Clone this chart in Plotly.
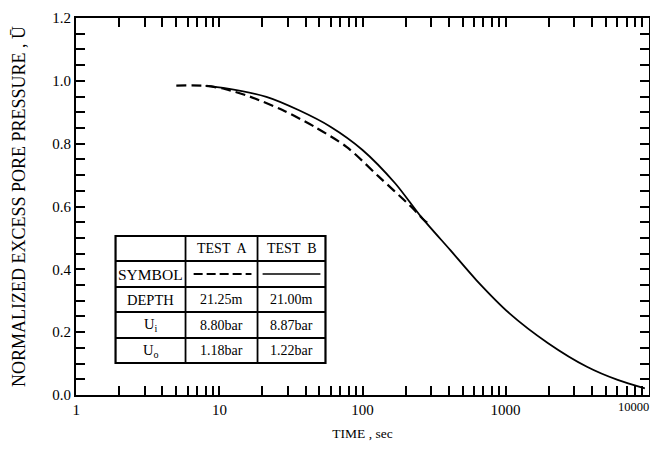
import plotly.graph_objects as go

# ---- data ----
test_a_time = [5, 8, 10.9, 16.5, 27.6, 46.1, 77.3, 130, 219, 269, 300]
test_a_u = [0.985, 0.984, 0.974, 0.949, 0.907, 0.854, 0.790, 0.695, 0.599, 0.557, 0.54]

test_b_time = [8, 10.9, 21.3, 35.7, 59.7, 100, 169, 257, 411, 624, 1064, 1982, 3700, 6070, 9400]
test_b_u = [0.984, 0.977, 0.949, 0.907, 0.854, 0.780, 0.674, 0.567, 0.461, 0.366, 0.260, 0.165, 0.090, 0.048, 0.021]

x_major = [1, 10, 100, 1000, 10000]
x_major_labels = ["1", "10", "100", "1000", "10000"]
y_major = [0.0, 0.2, 0.4, 0.6, 0.8, 1.0, 1.2]
y_major_labels = ["0.0", "0.2", "0.4", "0.6", "0.8", "1.0", "1.2"]

table_header = ["", "TEST  A", "TEST  B"]
table_rows = ["SYMBOL", "DEPTH", "U<sub>i</sub>", "U<sub>o</sub>"]
depth_vals = ["21.25m", "21.00m"]
ui_vals = ["8.80bar", "8.87bar"]
uo_vals = ["1.18bar", "1.22bar"]

x_title = "TIME , sec"
y_title = "NORMALIZED EXCESS PORE PRESSURE , Ū"

# ---- figure ----
# page body has an 8px margin; figure sized to fit inside the window
OFF = 8
W, H = 650, 433
EFF_W = W - 8  # width actually rendered in the window
# target plot-area pixels in the window
L, R, T, B = 76, 641, 18, 395
FONT = "Liberation Serif, Times New Roman, serif"

fig = go.Figure()
fig.add_trace(go.Scatter(x=test_a_time, y=test_a_u, mode="lines",
                         line=dict(color="black", width=2.2, dash="10px,5px", shape="spline", smoothing=0.8),
                         name="TEST A", showlegend=False))
fig.add_trace(go.Scatter(x=test_b_time, y=test_b_u, mode="lines",
                         line=dict(color="black", width=1.8, shape="spline", smoothing=0.8),
                         name="TEST B", showlegend=False))

minor_x = [m * 10 ** d for d in range(4) for m in range(2, 10)]

# last label (10000) sits at the right edge; drawn as an annotation so it stays visible
fig.update_xaxes(type="log", range=[-0.002, 4.002], tickvals=x_major,
                 ticktext=x_major_labels[:-1] + [""],
                 ticks="inside", ticklen=9, tickwidth=1.5, tickcolor="black",
                 showline=True, linewidth=2, linecolor="black", mirror="ticks",
                 showgrid=False, zeroline=False, automargin=False,
                 tickfont=dict(family=FONT, size=15, color="black"),
                 minor=dict(tickvals=minor_x, ticks="inside", ticklen=9, tickwidth=1.5, tickcolor="black", showgrid=False),
                 title=dict(text=x_title, font=dict(family=FONT, size=13.5, color="black"), standoff=17))
fig.update_yaxes(range=[0, 1.2], tickvals=y_major, ticktext=y_major_labels,
                 ticks="inside", ticklen=9, tickwidth=1.5, tickcolor="black",
                 showline=True, linewidth=2, linecolor="black", mirror="ticks",
                 showgrid=False, zeroline=False, automargin=False,
                 tickfont=dict(family=FONT, size=15, color="black"),
                 minor=dict(dtick=0.05, ticks="inside", ticklen=9, tickwidth=1.5, tickcolor="black", showgrid=False),
                 title=dict(text=y_title, font=dict(family=FONT, size=18, color="black"), standoff=22))

# ---- table (positions in window pixels -> paper) ----
def px(xp):
    return (xp - L) / (R - L)

def py(yp):
    return (B - yp) / (B - T)

cols = [115, 184, 255, 322]
rows = [236, 261, 287, 312, 338, 363]
shapes = []
shapes.append(dict(type="rect", xref="paper", yref="paper", x0=px(cols[0]), x1=px(cols[-1]),
                   y0=py(rows[-1]), y1=py(rows[0]), line=dict(color="black", width=2.2), fillcolor="white", layer="above"))
for c in cols[1:-1]:
    shapes.append(dict(type="line", xref="paper", yref="paper", x0=px(c), x1=px(c), y0=py(rows[-1]), y1=py(rows[0]),
                       line=dict(color="black", width=1.8)))
for r in rows[1:-1]:
    shapes.append(dict(type="line", xref="paper", yref="paper", x0=px(cols[0]), x1=px(cols[-1]), y0=py(r), y1=py(r),
                       line=dict(color="black", width=1.8)))
# symbol row samples
sym_y = py((rows[1] + rows[2]) / 2)
shapes.append(dict(type="line", xref="paper", yref="paper", x0=px(cols[1] + 8), x1=px(cols[2] - 6), y0=sym_y, y1=sym_y,
                   line=dict(color="black", width=1.8, dash="9px,4px")))
shapes.append(dict(type="line", xref="paper", yref="paper", x0=px(cols[2] + 5), x1=px(cols[3] - 5), y0=sym_y, y1=sym_y,
                   line=dict(color="black", width=1.5)))

annotations = []
def cell(text, ci, ri, size=14):
    annotations.append(dict(x=px((cols[ci] + cols[ci + 1]) / 2), y=py((rows[ri] + rows[ri + 1]) / 2),
                            xref="paper", yref="paper", text=text, showarrow=False,
                            font=dict(family=FONT, size=size, color="black"), xanchor="center", yanchor="middle"))

for ci, t in enumerate(table_header):
    if t:
        cell(t, ci, 0)
for ri, t in enumerate(table_rows):
    cell(t, 0, ri + 1, size=15.5 if ri == 0 else 14.5)
for ci in range(2):
    cell(depth_vals[ci], ci + 1, 2)
    cell(ui_vals[ci], ci + 1, 3)
    cell(uo_vals[ci], ci + 1, 4)

# right-edge tick label
annotations.append(dict(x=4, xref="x", y=0, yref="paper", text=x_major_labels[-1], showarrow=False,
                        xanchor="right", yanchor="top", xshift=2, yshift=-3,
                        font=dict(family=FONT, size=12.5, color="black")))

fig.update_layout(width=W, height=H,
                  margin=dict(l=L - OFF, r=(EFF_W + OFF) - R, t=T - OFF, b=(H + OFF) - B),
                  plot_bgcolor="white", paper_bgcolor="white",
                  shapes=shapes, annotations=annotations, showlegend=False)

fig.write_html("out.html")
